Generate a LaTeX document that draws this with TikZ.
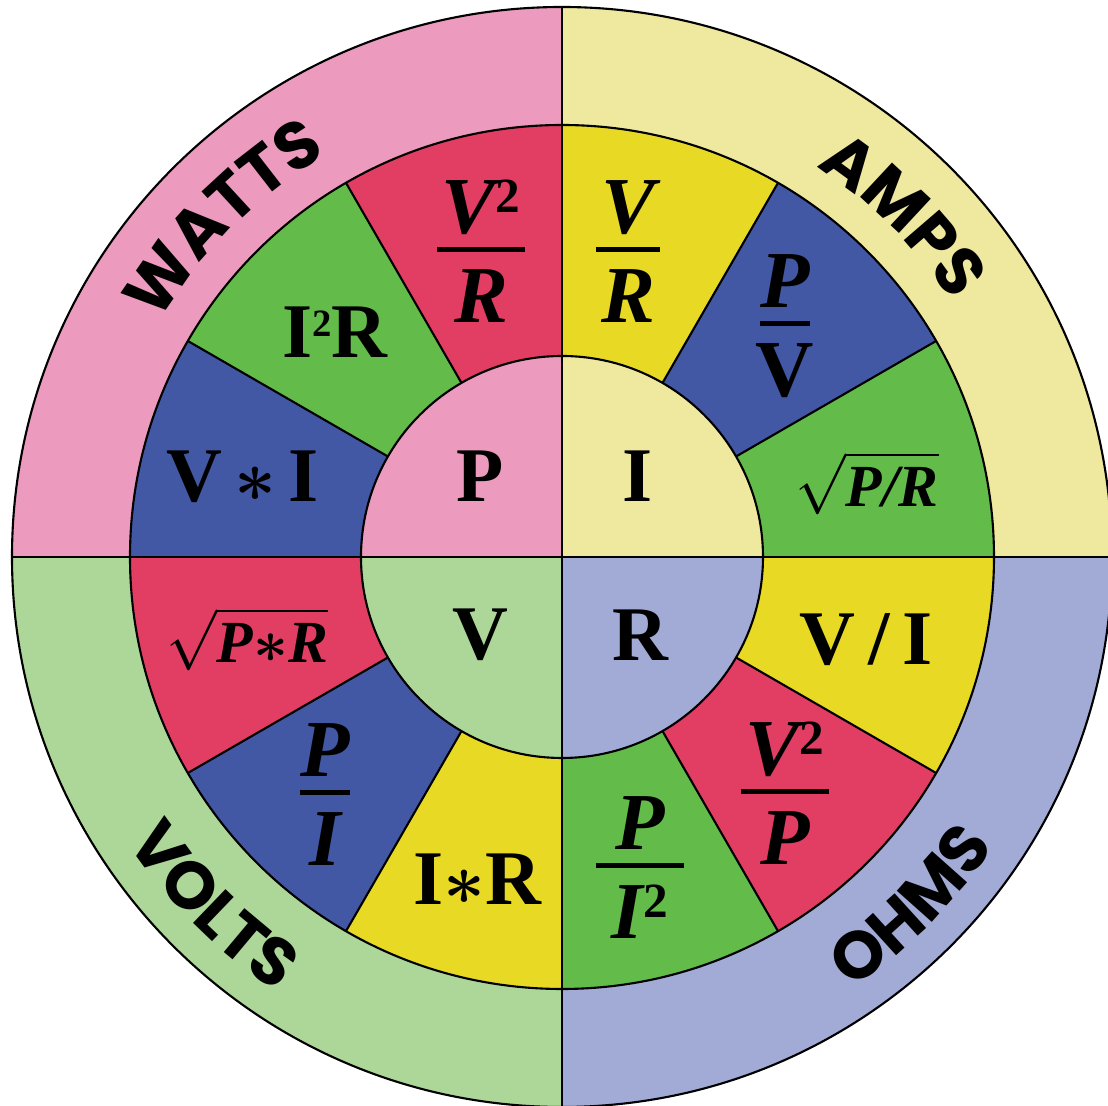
\documentclass[tikz,border=0pt]{standalone}
\usepackage{amsmath}
\usepackage{fontspec}
\setmainfont{Liberation Serif}
\newfontfamily\labelfont{Poppins}
\usetikzlibrary{decorations.text}

\definecolor{wattbg}{RGB}{236,155,190}
\definecolor{ampbg}{RGB}{239,233,160}
\definecolor{voltbg}{RGB}{173,215,152}
\definecolor{ohmbg}{RGB}{162,171,214}
\definecolor{segred}{RGB}{226,61,98}
\definecolor{seggreen}{RGB}{99,188,74}
\definecolor{segblue}{RGB}{66,88,165}
\definecolor{segyellow}{RGB}{232,217,37}

% stacked fraction with a short bar
\newcommand{\ohmfrac}[3][1em]{\begin{tabular}{@{}c@{}}#2\\[-0.95em]\rule{#1}{1.3pt}\\[-0.3em]#3\end{tabular}}
% small raised square
\newcommand{\sq}[1][14]{\raisebox{6pt}{\fontsize{#1}{#1}\selectfont\upshape 2}}
\newcommand{\unitfont}{\labelfont\bfseries\fontsize{19}{22}\selectfont}

\begin{document}
\begin{tikzpicture}[x=1cm, y=1cm]
\tikzstyle{ring} = [draw=black, line width=0.6pt]
\tikzstyle{big} = [font=\bfseries\fontsize{22}{26}\selectfont]
\tikzstyle{formula} = [font=\bfseries\itshape\fontsize{23}{27}\selectfont]
\tikzstyle{root} = [font=\bfseries\itshape\fontsize{17}{20}\selectfont]
\useasboundingbox (-5.62,-5.49) rectangle (5.46,5.57);
\clip (-5.62,-5.49) rectangle (5.46,5.57);
% outer quarters
\foreach \a/\c in {0/ampbg, 90/wattbg, 180/voltbg, 270/ohmbg}
  \fill[\c] (0,0) -- (\a:5.5) arc[start angle=\a, delta angle=90, radius=5.5] -- cycle;
% twelve segments
\foreach \a/\c in {0/seggreen, 30/segblue, 60/segyellow, 90/segred, 120/seggreen, 150/segblue,
                   180/segred, 210/segblue, 240/segyellow, 270/seggreen, 300/segred, 330/segyellow}
  \fill[\c] (0,0) -- (\a:4.32) arc[start angle=\a, delta angle=30, radius=4.32] -- cycle;
% inner quarters
\foreach \a/\c in {0/ampbg, 90/wattbg, 180/voltbg, 270/ohmbg}
  \fill[\c] (0,0) -- (\a:2.01) arc[start angle=\a, delta angle=90, radius=2.01] -- cycle;
% outlines
\draw[ring] (0,0) circle (5.5);
\draw[ring] (0,0) circle (4.32);
\draw[ring] (0,0) circle (2.01);
\draw[ring] (-5.5,0) -- (5.5,0);
\draw[ring] (0,-5.5) -- (0,5.5);
\foreach \a in {30,60,120,150,210,240,300,330}
  \draw[ring] (\a:2.01) -- (\a:4.32);
% unit names
\path[decorate, decoration={text along path, text align=center, text={|\unitfont|WATTS}}]
  (165:4.66) arc[start angle=165, end angle=105, radius=4.66];
\path[decorate, decoration={text along path, text align=center, text={|\unitfont|AMPS}}]
  (75:4.66) arc[start angle=75, end angle=15, radius=4.66];
\path[decorate, decoration={text along path, text align=center, text={|\unitfont|VOLTS}}]
  (195:5.2) arc[start angle=195, end angle=255, radius=5.2];
\path[decorate, decoration={text along path, text align=center, text={|\unitfont|OHMS}}]
  (285:5.2) arc[start angle=285, end angle=345, radius=5.2];
% centre letters
\node (pcen) [big] at (-0.82,0.81) {P};
\node (icen) [big] at (0.76,0.81) {I};
\node (vcen) [big] at (-0.82,-0.78) {V};
\node (rcen) [big] at (0.78,-0.78) {R};
% amps
\node (vr) [formula] at (0.66,2.98) {\ohmfrac[0.8em]{V}{R}};
\node (pv) [formula] at (2.23,2.24) {\ohmfrac[0.62em]{P}{\upshape V}};
\node (pr) [root] at (3.05,0.74) {$\sqrt{\text{P/R}}$};
% watts
\node (vvr) [formula] at (-0.81,2.98) {\ohmfrac[1.08em]{V\sq}{R}};
\node (iir) [big] at (-2.27,2.25) {I\sq[11]R};
\node (vi) [big] at (-3.19,0.8) {V$\,\boldsymbol{\ast}\,$I};
% volts
\node (ppr) [root] at (-3.15,-0.82) {$\sqrt{\text{P}{\boldsymbol{\ast}}\text{R}}$};
\node (pi) [formula] at (-2.37,-2.45) {\ohmfrac[0.62em]{P}{I}};
\node (ir) [big] at (-0.85,-3.22) {I$\boldsymbol{\ast}$R};
% ohms
\node (vdi) [big] at (3.04,-0.83) {V\,/\,I};
\node (vvp) [formula] at (2.23,-2.44) {\ohmfrac[1.1em]{V\sq}{P}};
\node (pii) [formula] at (0.78,-3.18) {\ohmfrac[1.1em]{P}{I\sq}};
\end{tikzpicture}
\end{document}
